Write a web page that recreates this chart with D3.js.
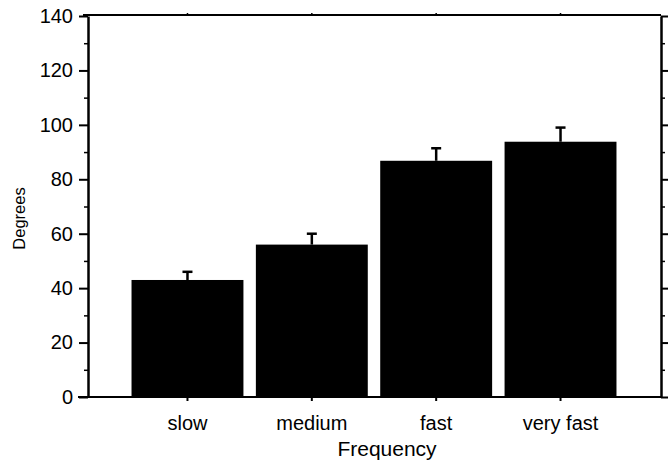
<!DOCTYPE html>
<html>
<head>
<meta charset="utf-8">
<script src="https://cdn.jsdelivr.net/npm/d3@7"></script>
<style>
  body { margin: 0; background: #fff; }
  text { font-family: "Liberation Sans", Arial, sans-serif; fill: #000; }
</style>
</head>
<body>
<div id="chart"></div>
<script>
const categories = ["slow", "medium", "fast", "very fast"];
const means = [43, 56, 86.8, 93.8];
const errors = [3, 4, 4.6, 5.2];
const majorTicks = [0, 20, 40, 60, 80, 100, 120, 140];
const minorTicks = [10, 30, 50, 70, 90, 110, 130];

const data = categories.map((c, i) => ({ cat: c, mean: means[i], err: errors[i] }));

const width = 669, height = 461;
const margin = {top: 16, right: 9, bottom: 64, left: 88};
const plotW = width - margin.left - margin.right;
const plotH = height - margin.top - margin.bottom;

const svg = d3.select("#chart").append("svg")
    .attr("width", width)
    .attr("height", height);

const g = svg.append("g")
    .attr("transform", `translate(${margin.left},${margin.top})`);

const x = d3.scaleBand().domain(categories).range([0, plotW])
    .paddingInner(0.1).paddingOuter(0.35);
const y = d3.scaleLinear().domain([0, 140]).range([plotH, 0]);

// bars
g.selectAll(".bar")
  .data(data)
  .enter().append("rect")
    .attr("class", "bar")
    .attr("x", d => x(d.cat))
    .attr("y", d => y(d.mean))
    .attr("width", x.bandwidth())
    .attr("height", d => y(0) - y(d.mean))
    .attr("fill", "#000");

// error bars (upper half only)
g.selectAll(".err")
  .data(data)
  .enter().append("line")
    .attr("class", "err")
    .attr("x1", d => x(d.cat) + x.bandwidth() / 2)
    .attr("x2", d => x(d.cat) + x.bandwidth() / 2)
    .attr("y1", d => y(d.mean))
    .attr("y2", d => y(d.mean + d.err))
    .attr("stroke", "#000")
    .attr("stroke-width", 2.5);

g.selectAll(".cap")
  .data(data)
  .enter().append("line")
    .attr("class", "cap")
    .attr("x1", d => x(d.cat) + x.bandwidth() / 2 - 5)
    .attr("x2", d => x(d.cat) + x.bandwidth() / 2 + 5)
    .attr("y1", d => y(d.mean + d.err))
    .attr("y2", d => y(d.mean + d.err))
    .attr("stroke", "#000")
    .attr("stroke-width", 2.5);

// left axis
const yAxis = d3.axisLeft(y).tickValues(majorTicks).tickSize(9).tickSizeOuter(0).tickPadding(6);
const yAxisG = g.append("g").call(yAxis);
yAxisG.select(".domain").attr("stroke-width", 2.5);
yAxisG.selectAll(".tick line").attr("stroke-width", 2);
yAxisG.selectAll("text").style("font-size", "20px");

g.append("g")
    .call(d3.axisLeft(y).tickValues(minorTicks).tickSize(4).tickFormat(""))
    .call(a => a.select(".domain").remove())
    .selectAll(".tick line").attr("stroke-width", 1.5);

// right axis
const rightG = g.append("g")
    .attr("transform", `translate(${plotW + 1},0)`)
    .call(d3.axisRight(y).tickValues(majorTicks).tickSize(7).tickSizeOuter(0).tickFormat(""));
rightG.select(".domain").attr("stroke-width", 2.5);
rightG.selectAll(".tick line").attr("stroke-width", 2);

g.append("g")
    .attr("transform", `translate(${plotW + 1},0)`)
    .call(d3.axisRight(y).tickValues(minorTicks).tickSize(4).tickFormat(""))
    .call(a => a.select(".domain").remove())
    .selectAll(".tick line").attr("stroke-width", 1.5);

// bottom axis
const xAxisG = g.append("g")
    .attr("transform", `translate(0,${plotH})`)
    .call(d3.axisBottom(x).tickSize(4).tickSizeOuter(0).tickPadding(15));
xAxisG.select(".domain").remove();
xAxisG.selectAll(".tick line").attr("stroke-width", 2);
xAxisG.selectAll("text").style("font-size", "20px");
g.append("line")
    .attr("x1", -10).attr("x2", plotW + 1)
    .attr("y1", plotH).attr("y2", plotH)
    .attr("stroke", "#000").attr("stroke-width", 2);

// top frame
const topG = g.append("g")
    .call(d3.axisTop(x).tickSize(3).tickSizeOuter(0).tickFormat(""));
topG.select(".domain").remove();
topG.selectAll(".tick line").attr("stroke-width", 1.5);
g.append("line")
    .attr("x1", -5).attr("x2", plotW + 1)
    .attr("y1", -1).attr("y2", -1)
    .attr("stroke", "#000").attr("stroke-width", 2);

// axis titles
svg.append("text")
    .attr("x", 387)
    .attr("y", 456)
    .attr("text-anchor", "middle")
    .style("font-size", "21px")
    .text("Frequency");

svg.append("text")
    .attr("transform", `translate(25,${margin.top + plotH / 2 + 12}) rotate(-90)`)
    .attr("text-anchor", "middle")
    .style("font-size", "16.5px")
    .text("Degrees");
</script>
</body>
</html>
